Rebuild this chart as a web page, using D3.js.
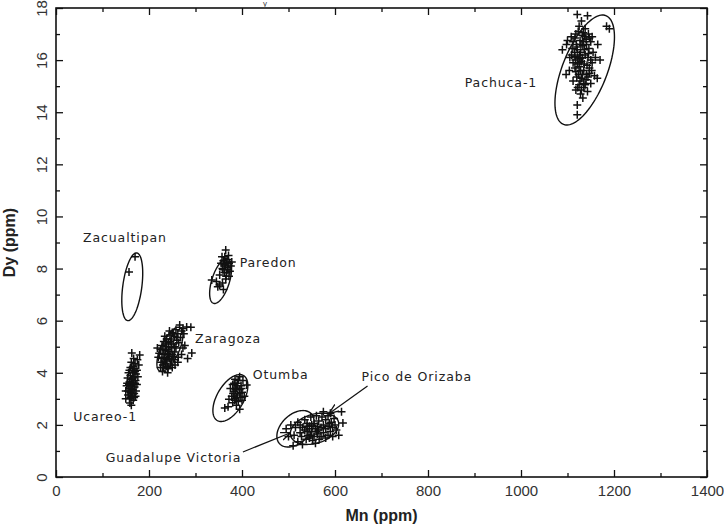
<!DOCTYPE html>
<html>
<head>
<meta charset="utf-8">
<script src="https://cdn.jsdelivr.net/npm/d3@7"></script>
<style>
  html, body { margin: 0; padding: 0; background: #fff; }
  svg { display: block; }
  .tick text { font-family: "Liberation Sans", Arial, sans-serif; }
</style>
</head>
<body>
<svg id="chart" width="724" height="528"></svg>
<script>
// Mn vs Dy (ppm) for obsidian sources, with confidence ellipses.

const xTicks = [0, 200, 400, 600, 800, 1000, 1200, 1400];
const yTicks = [0, 2, 4, 6, 8, 10, 12, 14, 16, 18];

// Samples per source: [Mn ppm, Dy ppm]
const pachuca = [
  [1121,17.75],[1143,17.7],[1184,17.3],[1190,17.2],[1130,17.5],[1125,17.3],[1138,17.2],[1118,17.0],
  [1108,16.9],[1132,16.95],[1145,17.0],[1112,16.7],[1127,16.75],[1140,16.8],[1150,16.7],[1098,16.6],
  [1089,16.4],[1120,16.5],[1133,16.55],[1146,16.45],[1155,16.3],[1115,16.3],[1128,16.3],[1138,16.2],
  [1105,16.1],[1122,16.1],[1150,16.0],[1160,16.1],[1130,15.95],[1112,15.9],[1142,15.8],[1125,15.75],
  [1153,15.9],[1097,15.45],[1104,15.6],[1118,15.55],[1135,15.6],[1147,15.5],[1164,15.3],[1120,15.35],
  [1130,15.3],[1140,15.25],[1112,15.2],[1150,15.1],[1125,15.05],[1135,14.95],[1118,14.85],[1143,14.8],
  [1128,14.7],[1133,14.55],[1121,14.28],[1121,13.9],[1137,16.9],[1117,16.0],[1127,16.05],[1135,15.1],
  [1145,16.25],[1110,16.45],[1100,16.75],[1152,15.6],[1158,15.4],[1170,16.0],[1165,16.6],[1153,16.9],
  [1123,17.1],[1134,17.05],[1116,16.85],[1129,16.6],[1141,16.6],[1121,16.4],[1136,16.4],[1126,16.2],
  [1144,16.1],[1116,16.15],[1132,16.1],[1121,15.85],[1136,15.85],[1147,15.7],[1128,15.6],[1116,15.7],
  [1141,15.45],[1124,15.45],[1132,15.45],[1144,15.35],[1127,15.2],[1138,15.05],[1122,14.95],[1130,14.85],
  [1126,15.9],[1134,16.7],[1119,16.6],[1147,16.85],[1109,16.2]
];
const zacualtipan = [[170,8.45],[157,7.87]];
const paredon = [
  [365,8.71],[363,8.45],[360,8.3],[368,8.35],[372,8.2],[355,8.2],[364,8.1],[376,8.1],[358,8.0],
  [369,7.95],[362,7.85],[374,7.9],[352,7.75],[366,7.7],[378,8.25],[357,8.45],[371,8.5],[335,7.56],
  [345,7.5],[352,7.37],[358,7.45],[365,7.6],[360,7.2],[348,7.3],[372,7.7],
  [362,8.15],[366,8.25],[370,8.05],[359,7.95],[367,7.85]
];
const ucareo = [
  [163,4.76],[180,4.68],[175,4.5],[170,4.35],[178,4.3],[160,4.2],[168,4.15],[174,4.1],[156,4.0],
  [165,4.0],[172,3.95],[160,3.9],[168,3.85],[154,3.8],[163,3.75],[171,3.7],[158,3.65],[166,3.6],
  [174,3.55],[152,3.5],[161,3.5],[169,3.45],[157,3.4],[165,3.35],[150,3.3],[160,3.25],[168,3.2],
  [155,3.15],[163,3.1],[171,3.1],[158,3.0],[166,2.95],[159,2.84],[162,2.75],[153,3.6],[176,3.85],
  [150,3.0],[172,3.3],
  [162,4.4],[167,4.55],[158,4.1],[170,4.05],[161,3.65],[165,3.8],[157,3.55],[170,3.6],[162,3.4],
  [155,3.3],[164,3.2],[160,3.05],[168,3.05],[166,4.25]
];
const zaragoza = [
  [266,5.83],[281,5.76],[273,5.7],[258,5.65],[290,5.75],[250,5.55],[262,5.5],[275,5.5],[245,5.45],
  [255,5.4],[268,5.35],[238,5.3],[248,5.3],[260,5.25],[232,5.2],[242,5.15],[252,5.1],[264,5.15],
  [228,5.05],[238,5.0],[248,4.98],[258,4.95],[225,4.9],[235,4.85],[245,4.82],[255,4.8],[222,4.75],
  [232,4.7],[242,4.68],[252,4.62],[263,4.6],[228,4.55],[238,4.5],[248,4.45],[226,4.4],[236,4.35],
  [246,4.3],[231,4.2],[241,4.15],[229,4.05],[273,4.95],[292,4.76],[283,4.55],[270,4.7],[262,4.4],
  [277,5.05],[220,4.6],[218,4.95],[234,5.4],[244,5.6],[256,4.3],[240,4.0],
  [236,5.1],[246,5.2],[255,5.0],[230,4.9],[240,4.75],[250,4.7],[234,4.6],[244,4.55],[254,4.5],
  [230,4.3],[240,4.25],[250,4.2],[225,4.2],[260,5.35],[252,5.5],[270,5.6],[242,4.9],[233,4.45]
];
const otumba = [
  [395,3.85],[385,3.75],[402,3.7],[390,3.6],[380,3.55],[398,3.5],[410,3.53],[388,3.42],[375,3.4],
  [395,3.35],[383,3.28],[400,3.25],[390,3.15],[378,3.1],[396,3.05],[385,3.0],[372,2.98],[392,2.9],
  [380,2.85],[400,2.95],[388,2.75],[370,2.7],[363,2.65],[395,2.6],[405,3.1],[383,3.6],
  [390,3.5],[386,3.35],[395,3.2],[381,3.2],[388,3.05],[392,3.7],[399,3.4],[384,2.95]
];
const picoGuadalupe = [
  [614,2.5],[617,2.07],[590,2.45],[575,2.5],[560,2.35],[548,2.3],[535,2.2],[520,2.1],[505,2.0],
  [495,1.85],[530,1.9],[545,1.95],[555,2.05],[565,2.15],[580,2.2],[592,2.1],[600,2.0],[585,1.95],
  [570,1.9],[558,1.85],[540,1.75],[525,1.7],[512,1.6],[548,1.6],[562,1.65],[575,1.7],[590,1.75],
  [603,1.8],[580,1.5],[566,1.45],[552,1.4],[538,1.45],[520,1.35],[510,1.2],[530,1.25],[558,1.3],
  [595,1.55],[608,1.6],[572,2.3],[540,2.05],[500,1.55],[515,1.9],[585,2.35],[555,1.55],[545,1.85],
  [550,2.0],[562,1.95],[575,2.0],[588,2.05],[535,1.8],[550,1.75],[565,1.8],[580,1.85],[595,1.9],
  [528,1.55],[542,1.6],[570,1.55],[585,1.6],[545,1.5],[560,1.75],[540,1.95],[525,2.0],[598,2.25]
];

// Confidence ellipses: centre, spread in Mn and Dy, correlation
const ellipseNames = ["Pachuca-1", "Zacualtipan", "Paredon", "Zaragoza", "Otumba", "Guadalupe Victoria", "Pico de Orizaba"];
const ellipseCx  = [1137, 164, 354, 245, 375, 515, 556];
const ellipseCy  = [15.62, 7.3, 7.52, 4.9, 3.03, 1.85, 1.85];
const ellipseSx  = [64, 22.5, 23.6, 28, 37.6, 40, 52];
const ellipseSy  = [2.11, 1.3, 0.86, 0.85, 0.9, 0.7, 0.6];
const ellipseRho = [0.6, 0.4, 0.55, 0.65, 0.53, 0.4, 0.3];

// Source labels (anchored at the left end of the text) and pointer arrows
const labelText = ["Pachuca-1", "Zacualtipan", "Paredon", "Zaragoza", "Otumba", "Ucareo-1", "Pico de Orizaba", "Guadalupe Victoria"];
const labelMn   = [879, 58, 395, 299, 423, 37, 657, 107];
const labelDy   = [15.12, 9.17, 8.21, 5.3, 3.92, 2.3, 3.84, 0.73];
const arrowFrom = [[670, 3.49], [402, 0.96]];
const arrowTo   = [[589, 2.46], [503, 1.69]];

// Remnant of the heading along the top edge
const headingFragment = "y";

const W = 724, H = 528;
const margin = { left: 56, right: 17, top: 8, bottom: 51 };
const svg = d3.select("#chart");

const x = d3.scaleLinear().domain([0, 1400]).range([margin.left, W - margin.right]);
const y = d3.scaleLinear().domain([0, 18]).range([H - margin.bottom, margin.top]);

const ink = "#111";

// Frame ticks: majors with labels, minors at the halfway marks
const xMinor = d3.range(100, 1400, 200);
const yMinor = d3.range(1, 18, 2);

function styleAxis(g) {
  g.select(".domain").remove();
  g.selectAll(".tick line").attr("stroke", ink).attr("stroke-width", 1.3);
}

svg.append("g").attr("transform", `translate(0,${y(0)})`)
  .call(d3.axisBottom(x).tickValues(xTicks).tickSize(-7).tickPadding(8).tickFormat(d3.format("d")))
  .call(styleAxis)
  .call(g => g.selectAll(".tick text").attr("font-size", 15).attr("fill", "#333"));
svg.append("g").attr("transform", `translate(0,${y(0)})`)
  .call(d3.axisBottom(x).tickValues(xMinor).tickSize(-4).tickFormat(""))
  .call(styleAxis);
svg.append("g").attr("transform", `translate(0,${y(18)})`)
  .call(d3.axisTop(x).tickValues(xTicks).tickSize(-7).tickFormat(""))
  .call(styleAxis);
svg.append("g").attr("transform", `translate(0,${y(18)})`)
  .call(d3.axisTop(x).tickValues(xMinor).tickSize(-4).tickFormat(""))
  .call(styleAxis);

svg.append("g").attr("transform", `translate(${x(0)},0)`)
  .call(d3.axisLeft(y).tickValues(yTicks).tickSize(-7).tickFormat(d3.format("d")))
  .call(styleAxis)
  .call(g => g.selectAll(".tick text")
    .attr("x", null).attr("dy", null)
    .attr("font-size", 15).attr("fill", "#333")
    .attr("text-anchor", "middle")
    .attr("transform", "translate(-9,0) rotate(-90)"));
svg.append("g").attr("transform", `translate(${x(0)},0)`)
  .call(d3.axisLeft(y).tickValues(yMinor).tickSize(-4).tickFormat(""))
  .call(styleAxis);
svg.append("g").attr("transform", `translate(${x(1400)},0)`)
  .call(d3.axisRight(y).tickValues(yTicks).tickSize(-7).tickFormat(""))
  .call(styleAxis);
svg.append("g").attr("transform", `translate(${x(1400)},0)`)
  .call(d3.axisRight(y).tickValues(yMinor).tickSize(-4).tickFormat(""))
  .call(styleAxis);

// Plot frame
svg.append("rect")
  .attr("x", x(0)).attr("y", y(18))
  .attr("width", x(1400) - x(0)).attr("height", y(0) - y(18))
  .attr("fill", "none").attr("stroke", ink).attr("stroke-width", 1.6);

// Axis titles
svg.append("text")
  .attr("x", (x(0) + x(1400)) / 2).attr("y", H - 7)
  .attr("text-anchor", "middle")
  .attr("font-family", "Liberation Sans, Arial, sans-serif")
  .attr("font-size", 16).attr("font-weight", "bold").attr("fill", "#222")
  .text("Mn (ppm)");
svg.append("text")
  .attr("transform", `translate(15,${(y(0) + y(18)) / 2}) rotate(-90)`)
  .attr("text-anchor", "middle")
  .attr("font-family", "Liberation Sans, Arial, sans-serif")
  .attr("font-size", 16).attr("font-weight", "bold").attr("fill", "#222")
  .text("Dy (ppm)");

svg.append("text")
  .attr("x", 265).attr("y", 6)
  .attr("text-anchor", "middle")
  .attr("font-family", "Liberation Sans, Arial, sans-serif")
  .attr("font-size", 8).attr("fill", "#444")
  .text(headingFragment);

// Confidence ellipses traced through the scales
const ellipses = ellipseNames.map((name, i) => ({
  name, cx: ellipseCx[i], cy: ellipseCy[i], sx: ellipseSx[i], sy: ellipseSy[i], rho: ellipseRho[i]
}));
const line = d3.line().x(d => x(d[0])).y(d => y(d[1])).curve(d3.curveLinearClosed);
svg.append("g").selectAll("path").data(ellipses).join("path")
  .attr("d", e => line(d3.range(0, 2 * Math.PI, Math.PI / 60).map(t => [
    e.cx + e.sx * Math.cos(t),
    e.cy + e.sy * (e.rho * Math.cos(t) + Math.sqrt(1 - e.rho * e.rho) * Math.sin(t))
  ])))
  .attr("fill", "none").attr("stroke", ink).attr("stroke-width", 1.4);

// Sample markers
const groups = [pachuca, zacualtipan, paredon, ucareo, zaragoza, otumba, picoGuadalupe];
const arm = 4;
svg.append("g").selectAll("path").data(groups.flat()).join("path")
  .attr("d", d => `M${x(d[0]) - arm},${y(d[1])}H${x(d[0]) + arm}M${x(d[0])},${y(d[1]) - arm}V${y(d[1]) + arm}`)
  .attr("stroke", ink).attr("stroke-width", 1.5).attr("fill", "none");

// Source labels
svg.append("g").selectAll("text").data(labelText).join("text")
  .attr("x", (d, i) => x(labelMn[i])).attr("y", (d, i) => y(labelDy[i]))
  .attr("dy", "0.35em")
  .attr("font-family", "DejaVu Sans, sans-serif")
  .attr("font-size", 12.5).attr("letter-spacing", 0.9).attr("fill", "#222")
  .text(d => d);

// Pointer arrows
svg.append("defs").append("marker")
  .attr("id", "head").attr("viewBox", "0 0 10 10")
  .attr("refX", 9).attr("refY", 5)
  .attr("markerWidth", 10).attr("markerHeight", 10)
  .attr("markerUnits", "userSpaceOnUse")
  .attr("orient", "auto")
  .append("path").attr("d", "M0,1L10,5L0,9").attr("fill", "none").attr("stroke", ink).attr("stroke-width", 1.3);
svg.append("g").selectAll("line").data(arrowFrom).join("line")
  .attr("x1", d => x(d[0])).attr("y1", d => y(d[1]))
  .attr("x2", (d, i) => x(arrowTo[i][0])).attr("y2", (d, i) => y(arrowTo[i][1]))
  .attr("stroke", ink).attr("stroke-width", 1.2)
  .attr("marker-end", "url(#head)");
</script>
</body>
</html>
